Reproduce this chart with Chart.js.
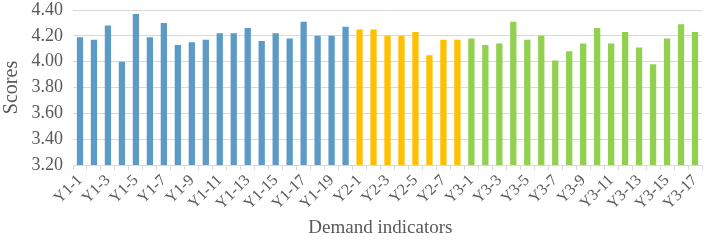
<!DOCTYPE html>
<html>
<head>
<meta charset="utf-8">
<script src="https://cdn.jsdelivr.net/npm/chart.js@4"></script>
<style>
  html, body { margin: 0; padding: 0; background: #fff; }
  canvas { display: block; }
</style>
</head>
<body>
<canvas id="scoreChart" width="706" height="241"></canvas>
<script>
// Demand indicator groups
const y1Labels = ['Y1-1','Y1-2','Y1-3','Y1-4','Y1-5','Y1-6','Y1-7','Y1-8','Y1-9','Y1-10',
                  'Y1-11','Y1-12','Y1-13','Y1-14','Y1-15','Y1-16','Y1-17','Y1-18','Y1-19','Y1-20'];
const y2Labels = ['Y2-1','Y2-2','Y2-3','Y2-4','Y2-5','Y2-6','Y2-7','Y2-8'];
const y3Labels = ['Y3-1','Y3-2','Y3-3','Y3-4','Y3-5','Y3-6','Y3-7','Y3-8','Y3-9','Y3-10',
                  'Y3-11','Y3-12','Y3-13','Y3-14','Y3-15','Y3-16','Y3-17'];

// Scores
const y1Scores = [4.19, 4.17, 4.28, 4.00, 4.37, 4.19, 4.30, 4.13, 4.15, 4.17,
                  4.22, 4.22, 4.26, 4.16, 4.22, 4.18, 4.31, 4.20, 4.20, 4.27];
const y2Scores = [4.25, 4.25, 4.20, 4.20, 4.23, 4.05, 4.17, 4.17];
const y3Scores = [4.18, 4.13, 4.14, 4.31, 4.17, 4.20, 4.01, 4.08, 4.14, 4.26,
                  4.14, 4.23, 4.11, 3.98, 4.18, 4.29, 4.23];

const yTicks = [3.20, 3.40, 3.60, 3.80, 4.00, 4.20, 4.40];

const labels = y1Labels.concat(y2Labels, y3Labels);
const scores = y1Scores.concat(y2Scores, y3Scores);
const colors = y1Labels.map(() => '#5e9ac6')
    .concat(y2Labels.map(() => '#ffc000'), y3Labels.map(() => '#92d050'));

const serif = "'Liberation Serif', 'Times New Roman', serif";

let ctx = document.getElementById('scoreChart').getContext('2d');
let scoreChart = new Chart(ctx, {
    type: 'bar',
    data: {
        labels: labels,
        datasets: [{
            data: scores,
            backgroundColor: colors,
            borderWidth: 0,
            barPercentage: 0.45,
            categoryPercentage: 1.0
        }]
    },
    options: {
        responsive: false,
        animation: false,
        layout: { padding: { top: 10, right: 4, left: 0, bottom: 0 } },
        plugins: {
            legend: { display: false },
            tooltip: { enabled: false }
        },
        scales: {
            x: {
                afterFit: function(scale) {
                    scale.height = 76;
                    scale.paddingLeft = 0;
                    scale.paddingRight = 0;
                },
                grid: {
                    display: true,
                    drawOnChartArea: false,
                    offset: true,
                    tickLength: 5,
                    color: '#d9d9d9'
                },
                border: { display: true, color: '#d9d9d9' },
                ticks: {
                    autoSkip: false,
                    maxRotation: 45,
                    minRotation: 45,
                    padding: 1,
                    color: '#595959',
                    font: { family: serif, size: 16 },
                    callback: function(value, index) {
                        return index % 2 === 0 ? labels[index] : '';
                    }
                },
                title: {
                    display: true,
                    text: 'Demand indicators   ',
                    color: '#595959',
                    font: { family: serif, size: 19 },
                    padding: { top: 0, bottom: 2 }
                }
            },
            y: {
                min: yTicks[0],
                max: yTicks[yTicks.length - 1],
                afterFit: function(scale) {
                    scale.width = 73;
                    scale.paddingTop = 0;
                    scale.paddingBottom = 0;
                },
                afterBuildTicks: function(scale) {
                    scale.ticks = yTicks.map(v => ({ value: v }));
                },
                grid: { color: '#d9d9d9', drawTicks: false },
                border: { display: false },
                ticks: {
                    padding: 10,
                    color: '#595959',
                    font: { family: serif, size: 18 },
                    callback: function(value) {
                        return value.toFixed(2);
                    }
                },
                title: {
                    display: true,
                    text: 'Scores',
                    color: '#595959',
                    font: { family: serif, size: 20 },
                    padding: { top: 0, bottom: 0 }
                }
            }
        }
    }
});
</script>
</body>
</html>
